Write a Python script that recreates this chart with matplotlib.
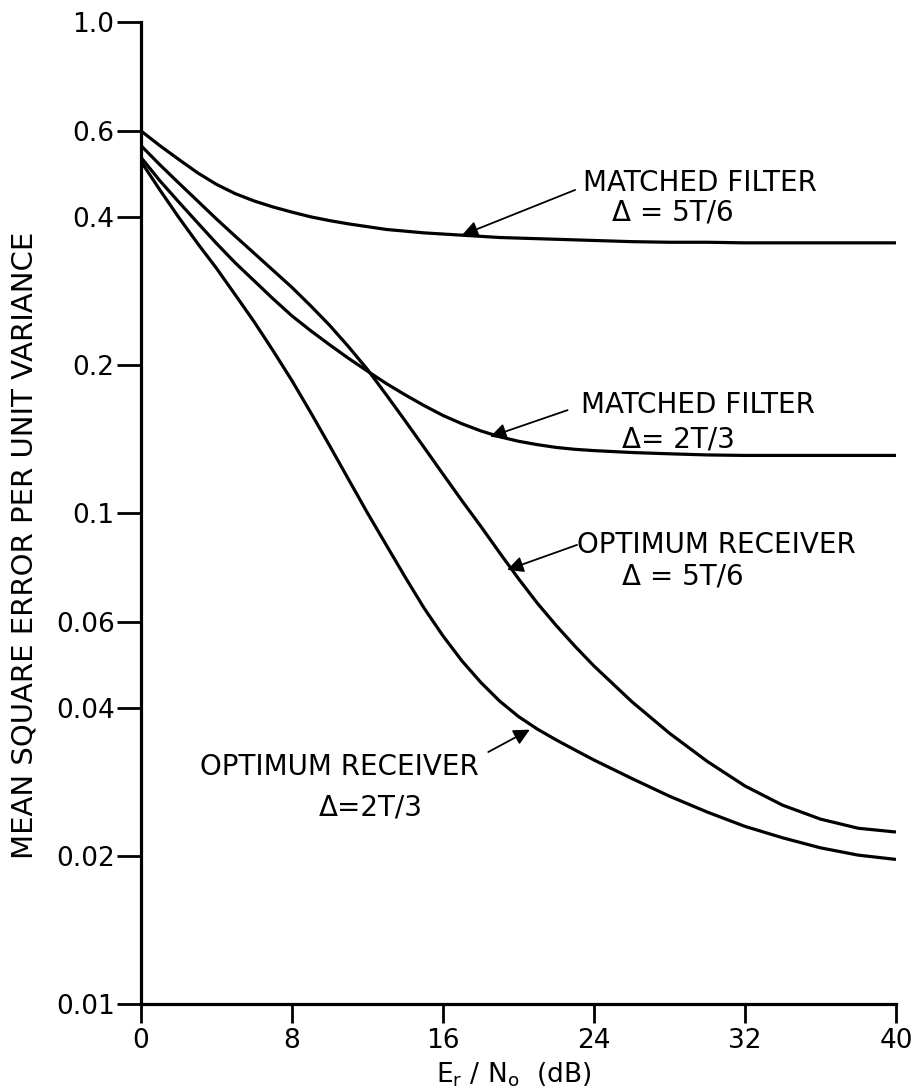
import matplotlib
matplotlib.use('Agg')
import matplotlib.pyplot as plt
from matplotlib.ticker import FixedLocator, NullLocator

# E_r/N_o in dB
snr = [0, 1, 2, 3, 4, 5, 6, 7, 8, 9, 10, 11, 12, 13, 14, 15, 16, 17, 18, 19, 20,
       21, 22, 23, 24, 26, 28, 30, 32, 34, 36, 38, 40]

# mean square error per unit variance
mf_56 = [0.60, 0.56, 0.525, 0.493, 0.467, 0.447, 0.432, 0.42, 0.41, 0.401, 0.394,
         0.388, 0.383, 0.378, 0.375, 0.372, 0.370, 0.368, 0.366, 0.364, 0.363,
         0.362, 0.361, 0.360, 0.359, 0.357, 0.356, 0.356, 0.355, 0.355, 0.355, 0.355, 0.355]
mf_23 = [0.53, 0.475, 0.43, 0.39, 0.354, 0.323, 0.297, 0.273, 0.252, 0.235, 0.220,
         0.2065, 0.1945, 0.1835, 0.174, 0.1655, 0.158, 0.152, 0.147, 0.143, 0.140,
         0.1378, 0.136, 0.1348, 0.134, 0.1328, 0.132, 0.1313, 0.131, 0.131, 0.131, 0.131, 0.131]
opt_56 = [0.56, 0.512, 0.47, 0.432, 0.397, 0.366, 0.338, 0.312, 0.288, 0.264, 0.241,
          0.218, 0.196, 0.174, 0.154, 0.136, 0.120, 0.106, 0.094, 0.083, 0.0735,
          0.0655, 0.059, 0.0535, 0.0488, 0.0413, 0.0356, 0.0312, 0.0278, 0.0254, 0.0238, 0.0228, 0.0224]
opt_23 = [0.52, 0.455, 0.40, 0.354, 0.315, 0.278, 0.245, 0.214, 0.186, 0.16, 0.137,
          0.117, 0.100, 0.086, 0.074, 0.064, 0.0562, 0.050, 0.0452, 0.0414, 0.0385,
          0.0363, 0.0345, 0.0329, 0.0314, 0.0288, 0.0265, 0.0246, 0.0230, 0.0218, 0.0208, 0.0201, 0.0197]

yticks = [1.0, 0.6, 0.4, 0.2, 0.1, 0.06, 0.04, 0.02, 0.01]
ylabels = ['1.0', '0.6', '0.4', '0.2', '0.1', '0.06', '0.04', '0.02', '0.01']
xticks = [0, 8, 16, 24, 32, 40]

plt.rcParams['font.family'] = ['DejaVu Sans']

fig = plt.figure(figsize=(9.15, 10.9), dpi=100)
ax = fig.add_axes([0.1541, 0.0789, 0.8251, 0.9009])

lw = 2.3
for s in (mf_56, mf_23, opt_56, opt_23):
    ax.plot(snr, s, color='black', lw=lw, solid_capstyle='butt', solid_joinstyle='round')

ax.set_yscale('log')
ax.set_xlim(0, 40)
ax.set_ylim(0.01, 1.0)
ax.yaxis.set_major_locator(FixedLocator(yticks))
ax.yaxis.set_minor_locator(NullLocator())
ax.set_yticklabels(ylabels)
ax.set_xticks(xticks)

for side in ('top', 'right'):
    ax.spines[side].set_visible(False)
for side in ('left', 'bottom'):
    ax.spines[side].set_linewidth(2.3)

ax.tick_params(axis='y', direction='out', length=17, width=2, pad=2, labelsize=19)
ax.tick_params(axis='x', direction='out', length=14, width=2, pad=3, labelsize=19)

ax.set_ylabel('MEAN SQUARE ERROR PER UNIT VARIANCE', fontsize=21)
ax.yaxis.set_label_coords(-0.136, 0.467)
ax.set_xlabel(r'$\mathregular{E_r\ /\ N_o}$  (dB)', fontsize=19)
ax.xaxis.set_label_coords(0.493, -0.058)

# labels and arrows
fs = 20
arrow = dict(arrowstyle='-|>', color='black', lw=1.3, mutation_scale=24, shrinkA=0, shrinkB=0)

ax.text(29.6, 0.470, 'MATCHED FILTER', fontsize=fs, ha='center', va='center')
ax.text(28.2, 0.410, '\u0394 = 5T/6', fontsize=fs, ha='center', va='center')
ax.annotate('', xy=(17.0, 0.368), xytext=(23.0, 0.455), arrowprops=arrow)

ax.text(29.5, 0.166, 'MATCHED FILTER', fontsize=fs, ha='center', va='center')
ax.text(28.5, 0.141, '\u0394= 2T/3', fontsize=fs, ha='center', va='center')
ax.annotate('', xy=(18.5, 0.143), xytext=(22.6, 0.162), arrowprops=arrow)

ax.text(30.5, 0.0861, 'OPTIMUM RECEIVER', fontsize=fs, ha='center', va='center')
ax.text(28.7, 0.0741, '\u0394 = 5T/6', fontsize=fs, ha='center', va='center')
ax.annotate('', xy=(19.4, 0.0766), xytext=(23.1, 0.0861), arrowprops=arrow)

ax.text(10.5, 0.0304, 'OPTIMUM RECEIVER', fontsize=fs, ha='center', va='center')
ax.text(12.2, 0.0251, '\u0394=2T/3', fontsize=fs, ha='center', va='center')
ax.annotate('', xy=(20.6, 0.0362), xytext=(18.4, 0.0326), arrowprops=arrow)

fig.savefig('out.png', dpi=100)
